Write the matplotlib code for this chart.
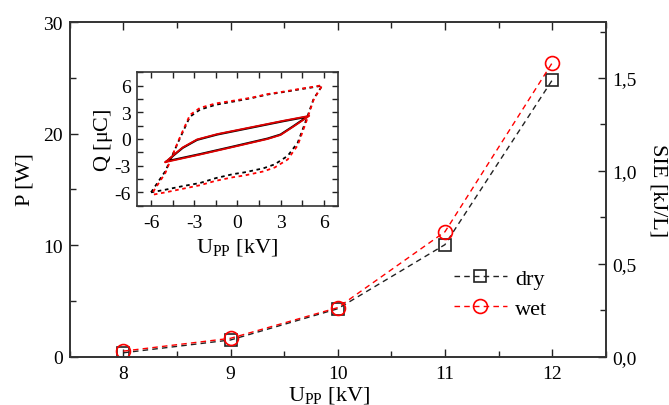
import matplotlib
matplotlib.use("Agg")
import matplotlib.pyplot as plt
from matplotlib.ticker import MultipleLocator, FuncFormatter

plt.rcParams["font.family"] = ["Liberation Serif", "DejaVu Serif"]
plt.rcParams["mathtext.fontset"] = "custom"
plt.rcParams["mathtext.rm"] = "Liberation Serif"
plt.rcParams["axes.unicode_minus"] = False

# main data: power vs. peak-to-peak voltage
u_pp = [8, 9, 10, 11, 12]
p_dry = [0.35, 1.5, 4.3, 10.05, 24.8]
p_wet = [0.5, 1.65, 4.4, 11.2, 26.35]

# inset: Q-U Lissajous loops (outer loop = 12 kV, inner loop = 10 kV)
outer_dry_u = [-6.0, -5.0, -4.1, -3.3, -2.6, -1.5, -0.3, 1.0, 2.1, 3.3, 4.4, 5.2, 5.9,
               5.3, 4.8, 4.2, 3.5, 2.6, 1.8, 0.5, -0.3, -1.5, -2.6, -3.8, -5.0, -6.0]
outer_dry_q = [-6.0, -3.6, -0.3, 2.5, 3.3, 3.85, 4.2, 4.6, 5.0, 5.3, 5.6, 5.8, 6.0,
               4.5, 2.2, -0.4, -1.9, -2.85, -3.3, -3.75, -3.95, -4.4, -4.95, -5.3, -5.7, -6.0]
outer_wet_u = [-6.0, -5.0, -4.1, -3.3, -2.6, -1.5, -0.3, 1.0, 2.1, 3.3, 4.4, 5.2, 5.9,
               5.3, 4.8, 4.2, 3.5, 2.6, 1.8, 0.5, -0.3, -1.5, -2.6, -3.8, -5.0, -6.0]
outer_wet_q = [-6.3, -3.8, -0.2, 2.7, 3.5, 4.0, 4.3, 4.65, 5.05, 5.35, 5.65, 5.85, 6.05,
               4.4, 2.0, -0.7, -2.3, -3.2, -3.65, -4.1, -4.3, -4.7, -5.2, -5.6, -6.0, -6.3]
inner_dry_u = [-4.9, -4.4, -3.8, -2.8, -1.4, 0.9, 3.2, 4.85,
               3.9, 3.0, 2.1, -0.3, -2.6, -4.9]
inner_dry_q = [-2.5, -1.8, -1.0, -0.1, 0.5, 1.25, 2.0, 2.5,
               1.45, 0.5, 0.05, -0.85, -1.7, -2.5]
inner_wet_u = [-5.0, -4.4, -3.8, -2.8, -1.4, 0.9, 3.2, 5.0,
               3.9, 3.0, 2.1, -0.3, -2.6, -5.0]
inner_wet_q = [-2.6, -1.75, -0.95, -0.05, 0.55, 1.3, 2.05, 2.6,
               1.4, 0.45, 0.0, -0.9, -1.75, -2.6]

fig = plt.figure(figsize=(6.69, 4.06), dpi=100)
ax = fig.add_axes([0.1042, 0.119, 0.8012, 0.8236])
ax2 = ax.twinx()

ax.plot(u_pp, p_dry, color="#222222", linestyle=(0, (4, 3)), linewidth=1.0,
        marker="s", markersize=9, markerfacecolor="none", markeredgewidth=1.2,
        label="dry")
ax.plot(u_pp, p_wet, color="red", linestyle=(0, (4, 3)), linewidth=1.0,
        marker="o", markersize=10, markerfacecolor="none", markeredgewidth=1.2,
        label="wet")

ax.set_xlim(7.5, 12.5)
ax.set_ylim(0, 30)
ax.set_xticks(u_pp)
ax.set_yticks([0, 10, 20, 30])
ax.xaxis.set_minor_locator(MultipleLocator(0.5))
ax.yaxis.set_minor_locator(MultipleLocator(5))
ax.tick_params(which="both", direction="in", top=True, labelsize=14, width=1.0,
               colors="#222222", labelcolor="black")
ax.tick_params(which="major", length=6, pad=5)
ax.tick_params(which="minor", length=4)
ax.tick_params(axis="x", which="major", pad=6)
ax.set_xlabel(r"U$_{\mathrm{PP}}$ [kV]", fontsize=16)
ax.xaxis.set_label_coords(0.484, -0.083)
ax.set_ylabel("P [W]", fontsize=16)
ax.yaxis.set_label_coords(-0.066, 0.533)

ax2.set_ylim(0, 1.8)
ax2.set_yticks([0, 0.5, 1.0, 1.5])
ax2.yaxis.set_minor_locator(MultipleLocator(0.25))
ax2.yaxis.set_major_formatter(FuncFormatter(lambda v, pos: f"{v:.1f}".replace(".", ",")))
ax2.tick_params(which="both", direction="in", labelsize=14, width=1.0,
                colors="#222222", labelcolor="black")
ax2.tick_params(which="major", length=6, pad=5)
ax2.tick_params(which="minor", length=4)
ax2.set_ylabel("SIE [kJ/L]", fontsize=16, rotation=270, labelpad=22)

for a in (ax, ax2):
    for s in a.spines.values():
        s.set_linewidth(1.2)
        s.set_color("#333333")

leg = ax.legend(loc="upper left", bbox_to_anchor=(0.70, 0.29), borderaxespad=0,
                frameon=False, fontsize=16, handlelength=2.4, handletextpad=0.35,
                labelspacing=0.4)

# inset
ins = fig.add_axes([0.2043, 0.4909, 0.301, 0.3286])
ins.plot(outer_dry_u, outer_dry_q, color="black", linestyle=(0, (2, 2)), linewidth=1.3)
ins.plot(outer_wet_u, outer_wet_q, color="red", linestyle=(2, (2, 2)), linewidth=1.3)
ins.plot(inner_dry_u, inner_dry_q, color="black", linewidth=1.5)
ins.plot(inner_wet_u, inner_wet_q, color="#e00000", linewidth=1.3)
ins.set_xlim(-7, 7)
ins.set_ylim(-7.5, 7.5)
ins.set_xticks([-6, -3, 0, 3, 6])
ins.set_yticks([-6, -3, 0, 3, 6])
ins.xaxis.set_minor_locator(MultipleLocator(1.5))
ins.yaxis.set_minor_locator(MultipleLocator(1.5))
ins.tick_params(which="both", direction="in", top=True, right=True, labelsize=14,
                width=1.0, length=4, colors="#222222", labelcolor="black", pad=4)
ins.tick_params(axis="x", pad=6)
ins.set_xlabel(r"U$_{\mathrm{PP}}$ [kV]", fontsize=16, labelpad=4)
ins.set_ylabel(r"Q [$\mathrm{\mu}$C]", fontsize=16, labelpad=0)
for s in ins.spines.values():
    s.set_linewidth(1.2)
    s.set_color("#333333")

fig.savefig("out.png", dpi=100)
